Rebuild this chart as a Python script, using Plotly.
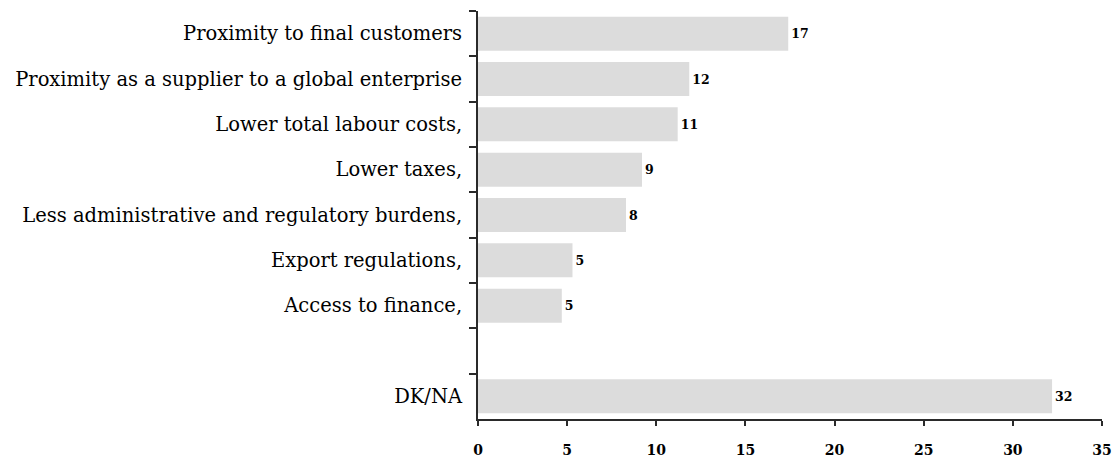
import plotly.graph_objects as go

# Reasons for location, share of respondents (%)
categories = [
    "Proximity to final customers",
    "Proximity as a supplier to a global enterprise",
    "Lower total labour costs,",
    "Lower taxes,",
    "Less administrative and regulatory burdens,",
    "Export regulations,",
    "Access to finance,",
    " ",
    "DK/NA",
]
values = [17.4, 11.85, 11.2, 9.2, 8.3, 5.3, 4.7, None, 32.2]

x_ticks = [0, 5, 10, 15, 20, 25, 30, 35]

serif = "DejaVu Serif"

fig = go.Figure(
    go.Bar(
        x=values,
        y=categories,
        orientation="h",
        marker=dict(color="#dcdcdc", line=dict(width=0)),
        text=[None if v is None else f"{round(v)}" for v in values],
        textposition="outside",
        cliponaxis=False,
        textfont=dict(family=serif, size=12.5, color="#000", weight="bold"),
        hoverinfo="skip",
    )
)

fig.update_layout(
    width=1118,
    height=459,
    margin=dict(l=478, r=16, t=11, b=40),
    paper_bgcolor="white",
    plot_bgcolor="white",
    bargap=0.25,
    showlegend=False,
    xaxis=dict(
        range=[0, 35],
        automargin=False,
        tickvals=x_ticks,
        ticktext=[str(t) for t in x_ticks],
        showgrid=False,
        zeroline=False,
        showline=True,
        linecolor="#2a2a2a",
        linewidth=2,
        ticks="outside",
        ticklen=5,
        tickwidth=2,
        tickcolor="#2a2a2a",
        ticklabelstandoff=12,
        tickfont=dict(family=serif, size=14, color="#000", weight="bold"),
    ),
    yaxis=dict(
        categoryorder="array",
        categoryarray=categories,
        range=[8.5, -0.5],
        automargin=False,
        showgrid=False,
        zeroline=False,
        showline=True,
        linecolor="#2a2a2a",
        linewidth=2,
        ticks="outside",
        tickson="boundaries",
        ticklen=7,
        tickwidth=2,
        tickcolor="#2a2a2a",
        ticklabelstandoff=10,
        tickfont=dict(family=serif, size=19.5, color="#000"),
    ),
)

fig.write_html("out.html")
